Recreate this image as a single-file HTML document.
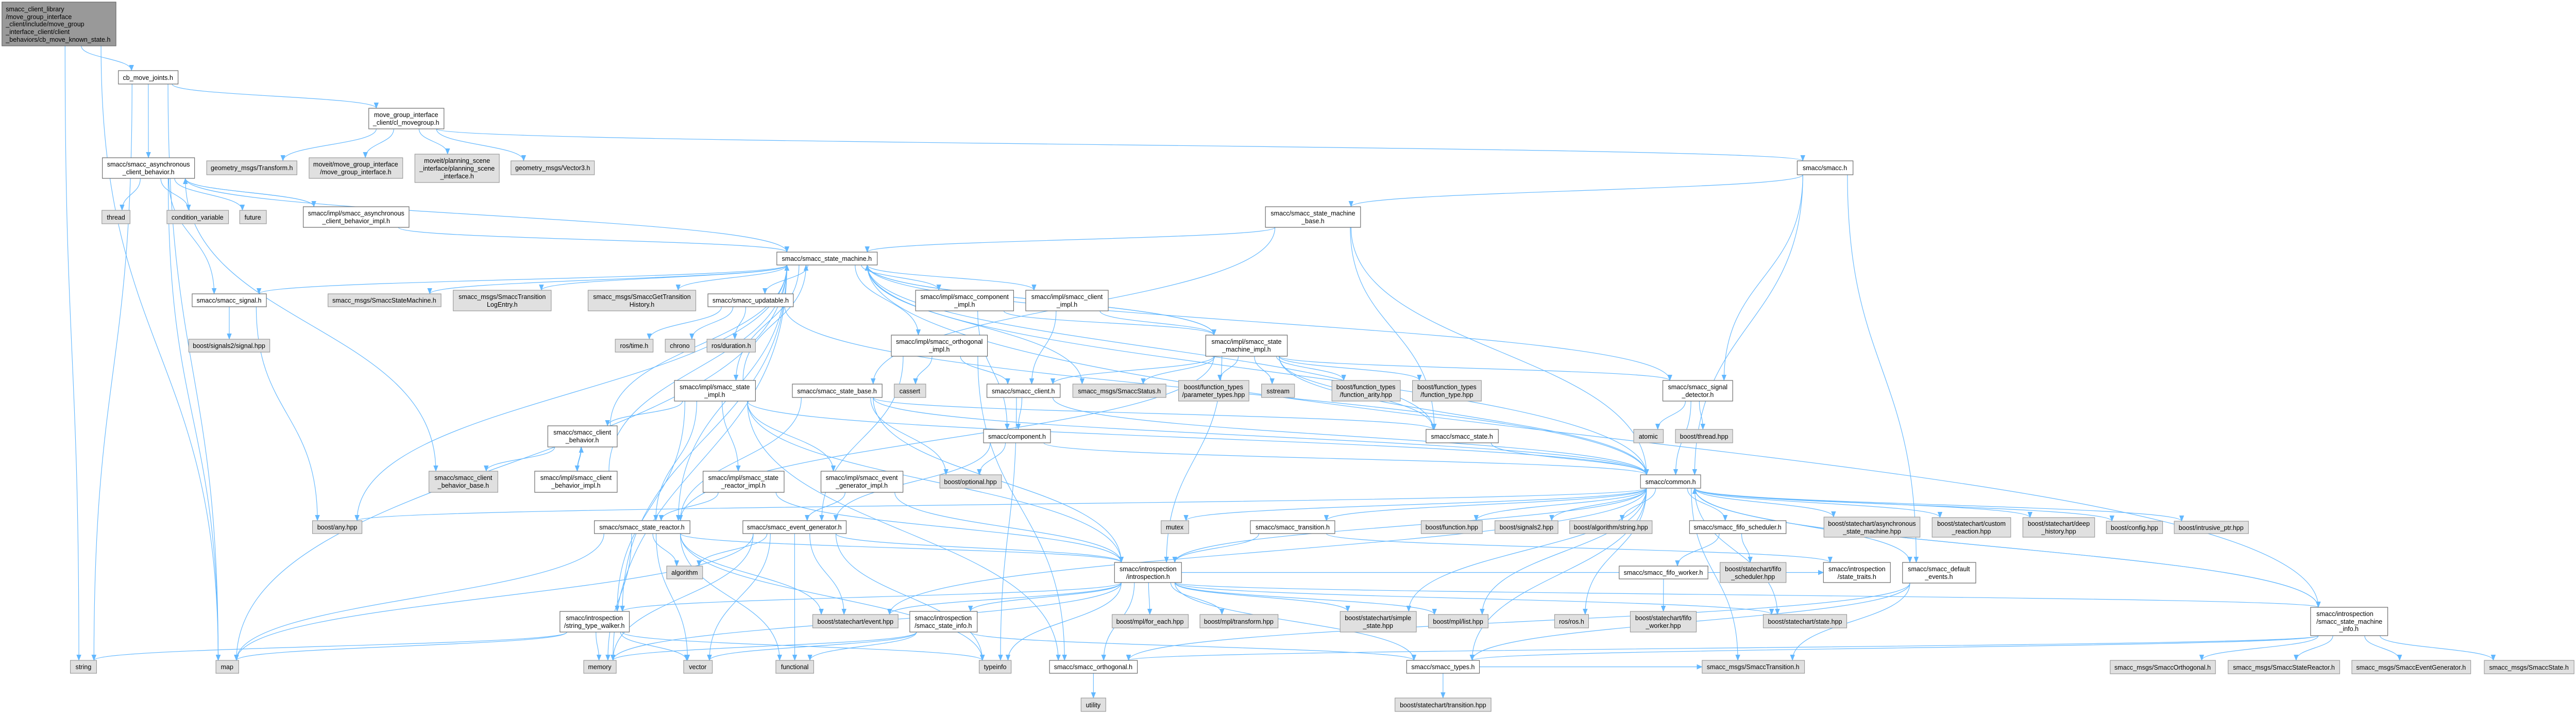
<!DOCTYPE html>
<html><head><meta charset="utf-8">
<style>
html,body{margin:0;padding:0;background:#fff;width:100%;height:100%;overflow:hidden;}
svg{display:block;position:absolute;left:0;top:0;width:100vw;height:100vh;}
text{font-family:"Liberation Sans",Arial,sans-serif;font-size:13.3px;fill:#000;}
.w{fill:#fff;stroke:#666;stroke-width:1.2;}
.g{fill:#e0e0e0;stroke:#999;stroke-width:1.2;}
.m{fill:#999;stroke:#666;stroke-width:1.2;}
.e{fill:none;stroke:#63b8ff;stroke-width:1.2;}
</style></head><body>
<svg id="s" viewBox="0 0 5309 1385" preserveAspectRatio="none" xmlns="http://www.w3.org/2000/svg">
<defs><marker id="a" markerWidth="12" markerHeight="10" refX="11" refY="5" orient="auto" markerUnits="userSpaceOnUse"><path d="M0,0 L12,5 L0,10 z" fill="#63b8ff"/></marker></defs>
<g id="edges"></g>
<g id="nodes">
<rect id="main" class="m" x="4" y="4" width="235" height="85"/>
<text x="12" y="22">smacc_client_library</text><text x="12" y="37">/move_group_interface</text><text x="12" y="51">_client/include/move_group</text><text x="12" y="66">_interface_client/client</text><text x="12" y="81">_behaviors/cb_move_known_state.h</text>

<rect id="cbj" class="w" x="244" y="137" width="123" height="26"/><text x="305" y="155" text-anchor="middle">cb_move_joints.h</text>
<rect id="clm" class="w" x="760" y="210" width="155" height="40"/><text x="837" y="227" text-anchor="middle">move_group_interface</text><text x="837" y="242" text-anchor="middle">_client/cl_movegroup.h</text>
<rect id="acb" class="w" x="211" y="306" width="190" height="40"/><text x="306" y="323" text-anchor="middle">smacc/smacc_asynchronous</text><text x="306" y="338" text-anchor="middle">_client_behavior.h</text>
<rect id="tf" class="g" x="426" y="312" width="186" height="27"/><text x="519" y="330" text-anchor="middle">geometry_msgs/Transform.h</text>
<rect id="mgi" class="g" x="637" y="306" width="193" height="40"/><text x="733" y="323" text-anchor="middle">moveit/move_group_interface</text><text x="733" y="338" text-anchor="middle">/move_group_interface.h</text>
<rect id="psi" class="g" x="855" y="299" width="174" height="55"/><text x="942" y="316" text-anchor="middle">moveit/planning_scene</text><text x="942" y="331" text-anchor="middle">_interface/planning_scene</text><text x="942" y="346" text-anchor="middle">_interface.h</text>
<rect id="v3" class="g" x="1053" y="312" width="172" height="27"/><text x="1139" y="330" text-anchor="middle">geometry_msgs/Vector3.h</text>
<rect id="thread" class="g" x="210" y="408" width="58" height="26"/><text x="239" y="426" text-anchor="middle">thread</text>
<rect id="cv" class="g" x="344" y="408" width="127" height="26"/><text x="407" y="426" text-anchor="middle">condition_variable</text>
<rect id="future" class="g" x="494" y="408" width="55" height="26"/><text x="521" y="426" text-anchor="middle">future</text>
<rect id="acbi" class="w" x="625" y="401" width="218" height="40"/><text x="734" y="418" text-anchor="middle">smacc/impl/smacc_asynchronous</text><text x="734" y="433" text-anchor="middle">_client_behavior_impl.h</text>
<rect id="sig" class="w" x="396" y="570" width="153" height="25"/><text x="472" y="587" text-anchor="middle">smacc/smacc_signal.h</text>
<rect id="ssm" class="g" x="676" y="570" width="233" height="25"/><text x="792" y="587" text-anchor="middle">smacc_msgs/SmaccStateMachine.h</text>
<rect id="tle" class="g" x="934" y="563" width="202" height="40"/><text x="1035" y="580" text-anchor="middle">smacc_msgs/SmaccTransition</text><text x="1035" y="595" text-anchor="middle">LogEntry.h</text>
<rect id="gth" class="g" x="1212" y="563" width="222" height="40"/><text x="1323" y="580" text-anchor="middle">smacc_msgs/SmaccGetTransition</text><text x="1323" y="595" text-anchor="middle">History.h</text>
<rect id="s2" class="g" x="389" y="658" width="167" height="25"/><text x="472" y="675" text-anchor="middle">boost/signals2/signal.hpp</text>
<rect id="time" class="g" x="1268" y="658" width="78" height="25"/><text x="1307" y="675" text-anchor="middle">ros/time.h</text>
<rect id="chrono" class="g" x="1371" y="658" width="61" height="25"/><text x="1401" y="675" text-anchor="middle">chrono</text>
<rect id="dur" class="g" x="1457" y="658" width="100" height="25"/><text x="1507" y="675" text-anchor="middle">ros/duration.h</text>
<rect id="upd" class="w" x="1459" y="570" width="176" height="25"/><text x="1547" y="587" text-anchor="middle">smacc/smacc_updatable.h</text>
<rect id="sm" class="w" x="1601" y="489" width="207" height="25"/><text x="1704" y="506" text-anchor="middle">smacc/smacc_state_machine.h</text>
<rect id="compi" class="w" x="1887" y="563" width="202" height="40"/><text x="1988" y="580" text-anchor="middle">smacc/impl/smacc_component</text><text x="1988" y="595" text-anchor="middle">_impl.h</text>
<rect id="clii" class="w" x="2114" y="563" width="170" height="40"/><text x="2199" y="580" text-anchor="middle">smacc/impl/smacc_client</text><text x="2199" y="595" text-anchor="middle">_impl.h</text>
<rect id="orti" class="w" x="1837" y="650" width="198" height="41"/><text x="1936" y="667" text-anchor="middle">smacc/impl/smacc_orthogonal</text><text x="1936" y="682" text-anchor="middle">_impl.h</text>
<rect id="smi" class="w" x="2485" y="650" width="168" height="41"/><text x="2569" y="667" text-anchor="middle">smacc/impl/smacc_state</text><text x="2569" y="682" text-anchor="middle">_machine_impl.h</text>
<rect id="smb" class="w" x="2608" y="401" width="196" height="40"/><text x="2706" y="418" text-anchor="middle">smacc/smacc_state_machine</text><text x="2706" y="433" text-anchor="middle">_base.h</text>
<rect id="smacc" class="w" x="3704" y="312" width="115" height="27"/><text x="3761" y="330" text-anchor="middle">smacc/smacc.h</text>
<rect id="cb" class="w" x="1129" y="826" width="143" height="41"/><text x="1200" y="843" text-anchor="middle">smacc/smacc_client</text><text x="1200" y="858" text-anchor="middle">_behavior.h</text>
<rect id="cbb" class="g" x="884" y="914" width="142" height="41"/><text x="955" y="931" text-anchor="middle">smacc/smacc_client</text><text x="955" y="946" text-anchor="middle">_behavior_base.h</text>
<rect id="cbi" class="w" x="1102" y="914" width="170" height="41"/><text x="1187" y="931" text-anchor="middle">smacc/impl/smacc_client</text><text x="1187" y="946" text-anchor="middle">_behavior_impl.h</text>
<rect id="any" class="g" x="644" y="1010" width="102" height="25"/><text x="695" y="1027" text-anchor="middle">boost/any.hpp</text>
<rect id="sr" class="w" x="1225" y="1010" width="197" height="25"/><text x="1323" y="1027" text-anchor="middle">smacc/smacc_state_reactor.h</text>
<rect id="stw" class="w" x="1154" y="1186" width="143" height="40"/><text x="1225" y="1203" text-anchor="middle">smacc/introspection</text><text x="1225" y="1218" text-anchor="middle">/string_type_walker.h</text>
<rect id="string" class="g" x="145" y="1281" width="54" height="25"/><text x="172" y="1298" text-anchor="middle">string</text>
<rect id="map" class="g" x="445" y="1281" width="47" height="25"/><text x="468" y="1298" text-anchor="middle">map</text>
<rect id="memory" class="g" x="1203" y="1281" width="67" height="25"/><text x="1236" y="1298" text-anchor="middle">memory</text>
<rect id="si" class="w" x="1390" y="738" width="167" height="40"/><text x="1473" y="755" text-anchor="middle">smacc/impl/smacc_state</text><text x="1473" y="770" text-anchor="middle">_impl.h</text>
<rect id="sb" class="w" x="1633" y="745" width="185" height="26"/><text x="1725" y="763" text-anchor="middle">smacc/smacc_state_base.h</text>
<rect id="cassert" class="g" x="1843" y="745" width="65" height="26"/><text x="1875" y="763" text-anchor="middle">cassert</text>
<rect id="client" class="w" x="2034" y="745" width="151" height="26"/><text x="2109" y="763" text-anchor="middle">smacc/smacc_client.h</text>
<rect id="status" class="g" x="2211" y="745" width="192" height="26"/><text x="2307" y="763" text-anchor="middle">smacc_msgs/SmaccStatus.h</text>
<rect id="ptypes" class="g" x="2429" y="738" width="145" height="40"/><text x="2501" y="755" text-anchor="middle">boost/function_types</text><text x="2501" y="770" text-anchor="middle">/parameter_types.hpp</text>
<rect id="sstream" class="g" x="2600" y="745" width="68" height="26"/><text x="2634" y="763" text-anchor="middle">sstream</text>
<rect id="comp" class="w" x="2027" y="833" width="138" height="26"/><text x="2096" y="851" text-anchor="middle">smacc/component.h</text>
<rect id="sri" class="w" x="1449" y="914" width="167" height="41"/><text x="1532" y="931" text-anchor="middle">smacc/impl/smacc_state</text><text x="1532" y="946" text-anchor="middle">_reactor_impl.h</text>
<rect id="egi" class="w" x="1692" y="914" width="169" height="41"/><text x="1776" y="931" text-anchor="middle">smacc/impl/smacc_event</text><text x="1776" y="946" text-anchor="middle">_generator_impl.h</text>
<rect id="opt" class="g" x="1937" y="921" width="127" height="26"/><text x="2000" y="939" text-anchor="middle">boost/optional.hpp</text>
<rect id="eg" class="w" x="1531" y="1010" width="213" height="25"/><text x="1637" y="1027" text-anchor="middle">smacc/smacc_event_generator.h</text>
<rect id="mutex" class="g" x="2393" y="1010" width="57" height="25"/><text x="2421" y="1027" text-anchor="middle">mutex</text>
<rect id="trans" class="w" x="2577" y="1010" width="174" height="25"/><text x="2664" y="1027" text-anchor="middle">smacc/smacc_transition.h</text>
<rect id="algo" class="g" x="1374" y="1098" width="74" height="25"/><text x="1411" y="1115" text-anchor="middle">algorithm</text>
<rect id="intro" class="w" x="2297" y="1091" width="138" height="39"/><text x="2366" y="1108" text-anchor="middle">smacc/introspection</text><text x="2366" y="1123" text-anchor="middle">/introspection.h</text>
<rect id="event" class="g" x="1675" y="1192" width="176" height="26"/><text x="1763" y="1210" text-anchor="middle">boost/statechart/event.hpp</text>
<rect id="sinfo" class="w" x="1875" y="1186" width="139" height="40"/><text x="1944" y="1203" text-anchor="middle">smacc/introspection</text><text x="1944" y="1218" text-anchor="middle">/smacc_state_info.h</text>
<rect id="foreach" class="g" x="2292" y="1192" width="157" height="26"/><text x="2370" y="1210" text-anchor="middle">boost/mpl/for_each.hpp</text>
<rect id="transform" class="g" x="2473" y="1192" width="161" height="26"/><text x="2553" y="1210" text-anchor="middle">boost/mpl/transform.hpp</text>
<rect id="vector" class="g" x="1409" y="1281" width="59" height="25"/><text x="1438" y="1298" text-anchor="middle">vector</text>
<rect id="functional" class="g" x="1599" y="1281" width="78" height="25"/><text x="1638" y="1298" text-anchor="middle">functional</text>
<rect id="typeinfo" class="g" x="2018" y="1281" width="66" height="25"/><text x="2051" y="1298" text-anchor="middle">typeinfo</text>
<rect id="orth" class="w" x="2163" y="1281" width="181" height="25"/><text x="2253" y="1298" text-anchor="middle">smacc/smacc_orthogonal.h</text>
<rect id="utility" class="g" x="2228" y="1354" width="51" height="26"/><text x="2253" y="1372" text-anchor="middle">utility</text>
<rect id="farity" class="g" x="2745" y="738" width="141" height="40"/><text x="2815" y="755" text-anchor="middle">boost/function_types</text><text x="2815" y="770" text-anchor="middle">/function_arity.hpp</text>
<rect id="ftype" class="g" x="2911" y="738" width="142" height="40"/><text x="2982" y="755" text-anchor="middle">boost/function_types</text><text x="2982" y="770" text-anchor="middle">/function_type.hpp</text>
<rect id="sigdet" class="w" x="3427" y="738" width="144" height="40"/><text x="3499" y="755" text-anchor="middle">smacc/smacc_signal</text><text x="3499" y="770" text-anchor="middle">_detector.h</text>
<rect id="state" class="w" x="2939" y="833" width="149" height="26"/><text x="3013" y="851" text-anchor="middle">smacc/smacc_state.h</text>
<rect id="atomic" class="g" x="3367" y="833" width="61" height="26"/><text x="3397" y="851" text-anchor="middle">atomic</text>
<rect id="bthread" class="g" x="3453" y="833" width="118" height="26"/><text x="3512" y="851" text-anchor="middle">boost/thread.hpp</text>
<rect id="common" class="w" x="3381" y="921" width="124" height="26"/><text x="3443" y="939" text-anchor="middle">smacc/common.h</text>
<rect id="bfunc" class="g" x="2929" y="1010" width="126" height="25"/><text x="2992" y="1027" text-anchor="middle">boost/function.hpp</text>
<rect id="s2hpp" class="g" x="3081" y="1010" width="130" height="25"/><text x="3146" y="1027" text-anchor="middle">boost/signals2.hpp</text>
<rect id="algstr" class="g" x="3235" y="1010" width="170" height="25"/><text x="3320" y="1027" text-anchor="middle">boost/algorithm/string.hpp</text>
<rect id="fifos" class="w" x="3482" y="1010" width="199" height="25"/><text x="3581" y="1027" text-anchor="middle">smacc/smacc_fifo_scheduler.h</text>
<rect id="asm" class="g" x="3759" y="1003" width="198" height="39"/><text x="3858" y="1020" text-anchor="middle">boost/statechart/asynchronous</text><text x="3858" y="1035" text-anchor="middle">_state_machine.hpp</text>
<rect id="fifow" class="w" x="3337" y="1098" width="183" height="25"/><text x="3428" y="1115" text-anchor="middle">smacc/smacc_fifo_worker.h</text>
<rect id="fifosh" class="g" x="3545" y="1091" width="136" height="39"/><text x="3613" y="1108" text-anchor="middle">boost/statechart/fifo</text><text x="3613" y="1123" text-anchor="middle">_scheduler.hpp</text>
<rect id="traits" class="w" x="3758" y="1091" width="138" height="39"/><text x="3827" y="1108" text-anchor="middle">smacc/introspection</text><text x="3827" y="1123" text-anchor="middle">/state_traits.h</text>
<rect id="defev" class="w" x="3921" y="1091" width="151" height="40"/><text x="3996" y="1108" text-anchor="middle">smacc/smacc_default</text><text x="3996" y="1123" text-anchor="middle">_events.h</text>
<rect id="simple" class="g" x="2762" y="1186" width="157" height="40"/><text x="2840" y="1203" text-anchor="middle">boost/statechart/simple</text><text x="2840" y="1218" text-anchor="middle">_state.hpp</text>
<rect id="list" class="g" x="2944" y="1192" width="123" height="26"/><text x="3005" y="1210" text-anchor="middle">boost/mpl/list.hpp</text>
<rect id="ros" class="g" x="3204" y="1192" width="70" height="26"/><text x="3239" y="1210" text-anchor="middle">ros/ros.h</text>
<rect id="fifowh" class="g" x="3360" y="1186" width="136" height="40"/><text x="3428" y="1203" text-anchor="middle">boost/statechart/fifo</text><text x="3428" y="1218" text-anchor="middle">_worker.hpp</text>
<rect id="statehpp" class="g" x="3634" y="1192" width="172" height="26"/><text x="3720" y="1210" text-anchor="middle">boost/statechart/state.hpp</text>
<rect id="types" class="w" x="2899" y="1281" width="150" height="25"/><text x="2974" y="1298" text-anchor="middle">smacc/smacc_types.h</text>
<rect id="strans" class="g" x="3508" y="1281" width="211" height="25"/><text x="3613" y="1298" text-anchor="middle">smacc_msgs/SmaccTransition.h</text>
<rect id="thpp" class="g" x="2875" y="1354" width="198" height="26"/><text x="2974" y="1372" text-anchor="middle">boost/statechart/transition.hpp</text>
<rect id="custom" class="g" x="3982" y="1004" width="162" height="38"/><text x="4063" y="1020" text-anchor="middle">boost/statechart/custom</text><text x="4063" y="1035" text-anchor="middle">_reaction.hpp</text>
<rect id="deep" class="g" x="4169" y="1004" width="148" height="38"/><text x="4243" y="1020" text-anchor="middle">boost/statechart/deep</text><text x="4243" y="1035" text-anchor="middle">_history.hpp</text>
<rect id="config" class="g" x="4341" y="1011" width="116" height="24"/><text x="4399" y="1028" text-anchor="middle">boost/config.hpp</text>
<rect id="intr" class="g" x="4481" y="1011" width="153" height="24"/><text x="4557" y="1028" text-anchor="middle">boost/intrusive_ptr.hpp</text>
<rect id="smiinfo" class="w" x="4762" y="1178" width="159" height="55"/><text x="4774" y="1195">smacc/introspection</text><text x="4774" y="1210">/smacc_state_machine</text><text x="4841" y="1224" text-anchor="middle">_info.h</text>
<rect id="orthmsg" class="g" x="4349" y="1281" width="217" height="26"/><text x="4457" y="1299" text-anchor="middle">smacc_msgs/SmaccOrthogonal.h</text>
<rect id="reactmsg" class="g" x="4592" y="1281" width="230" height="26"/><text x="4707" y="1299" text-anchor="middle">smacc_msgs/SmaccStateReactor.h</text>
<rect id="egmsg" class="g" x="4847" y="1281" width="245" height="26"/><text x="4969" y="1299" text-anchor="middle">smacc_msgs/SmaccEventGenerator.h</text>
<rect id="statemsg" class="g" x="5120" y="1281" width="185" height="26"/><text x="5212" y="1299" text-anchor="middle">smacc_msgs/SmaccState.h</text>
</g>
</svg>
<script>
(function(){
var E="main>cbj main>string main>map cbj>acb cbj>clm cbj>string cbj>map clm>tf clm>mgi clm>psi clm>v3 clm>smacc "+
"acb>thread acb>cv acb>future acb>acbi acb>sig acb>cbb acb>sm acb>map acbi>acb acbi>sm "+
"smacc>smb smacc>common smacc>sigdet smacc>defev smb>sm smb>common smb>sb smb>state "+
"sm>ssm sm>tle sm>gth sm>upd sm>compi sm>clii sm>orti sm>smi sm>sig sm>map sm>any sm>status sm>common sm>state sm>sigdet sm>smiinfo sm>sr sm>si sm>stw sm>memory "+
"sig>s2 sig>any upd>time upd>chrono upd>dur upd>common compi>comp compi>smi clii>client clii>smi "+
"orti>cassert orti>client orti>orth orti>eg smi>client smi>status smi>ptypes smi>sstream smi>farity smi>ftype smi>sigdet smi>state smi>common smi>sr smi>intro smi>sm "+
"si>sr si>sri si>egi si>stw si>cb si>orth si>sm si>intro si>common sb>state sb>opt sb>sr sb>intro sb>common "+
"client>comp client>typeinfo client>common comp>opt comp>common comp>eg cb>cbb cb>cbi cbi>cb cbi>sm cb>sm "+
"sri>sr sri>intro egi>eg egi>intro sr>algo sr>vector sr>functional sr>map sr>memory sr>event sr>intro sr>typeinfo "+
"eg>algo eg>vector eg>functional eg>event eg>intro eg>map eg>memory eg>typeinfo "+
"stw>string stw>map stw>memory stw>vector stw>typeinfo intro>event intro>sinfo intro>foreach intro>transform intro>typeinfo intro>simple intro>list intro>statehpp intro>traits intro>stw intro>smiinfo intro>types intro>orth intro>memory "+
"sinfo>vector sinfo>functional sinfo>memory sinfo>types orth>utility state>common "+
"common>bfunc common>s2hpp common>algstr common>fifos common>asm common>custom common>deep common>config common>intr common>trans common>defev common>types common>ros common>statehpp common>simple common>list common>mutex common>intro common>any common>strans common>smiinfo common>event "+
"fifos>fifow fifos>fifosh fifow>fifowh trans>intro trans>traits sigdet>atomic sigdet>bthread sigdet>common "+
"types>thpp types>strans defev>types defev>strans defev>orth smiinfo>orthmsg smiinfo>reactmsg smiinfo>egmsg smiinfo>statemsg smiinfo>types smiinfo>orth smiinfo>common";
function R(id){var r=document.getElementById(id);return{x:+r.getAttribute('x'),y:+r.getAttribute('y'),w:+r.getAttribute('width'),h:+r.getAttribute('height')};}
function cl(v,m){return Math.max(-m,Math.min(m,v));}
var g=document.getElementById('edges'),ns="http://www.w3.org/2000/svg";
E.split(/\s+/).forEach(function(p){if(!p)return;var q=p.split('>');var s=R(q[0]),t=R(q[1]);
var scx=s.x+s.w/2,tcx=t.x+t.w/2,scy=s.y+s.h/2,tcy=t.y+t.h/2,d;
if(t.y>s.y+s.h+8){var sx=scx+cl((tcx-scx)*0.25,s.w*0.4),sy=s.y+s.h;var tx=tcx+cl((sx-tcx)*0.25,t.w*0.4),ty=t.y;var m=(ty-sy)/2;
d="M"+sx+","+sy+" C"+sx+","+(sy+m)+" "+tx+","+(ty-m)+" "+tx+","+ty;}
else if(t.y+t.h<s.y-8){var sx=scx+cl((tcx-scx)*0.25,s.w*0.4),sy=s.y;var tx=tcx+cl((sx-tcx)*0.25,t.w*0.4),ty=t.y+t.h;var m=(sy-ty)/2;
d="M"+sx+","+sy+" C"+sx+","+(sy-m)+" "+tx+","+(ty+m)+" "+tx+","+ty;}
else{var r=tcx>scx;var sx=r?s.x+s.w:s.x,tx=r?t.x:t.x+t.w;var mx=(sx+tx)/2;d="M"+sx+","+scy+" C"+mx+","+scy+" "+mx+","+tcy+" "+tx+","+tcy;}
var e=document.createElementNS(ns,'path');e.setAttribute('d',d);e.setAttribute('class','e');e.setAttribute('marker-end','url(#a)');g.appendChild(e);});
})();
</script>
</body></html>
